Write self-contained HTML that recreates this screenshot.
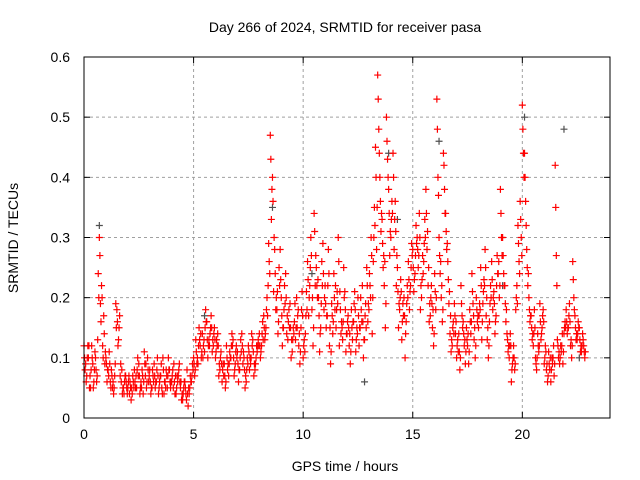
<!DOCTYPE html>
<html><head><meta charset="utf-8"><style>
html,body{margin:0;padding:0;background:#fff;}
svg{display:block;font-family:"Liberation Sans",sans-serif;}
</style></head><body>
<svg id="chart" width="640" height="480" viewBox="0 0 640 480">
<rect x="0" y="0" width="640" height="480" fill="#fff"/>
<text x="345" y="32" text-anchor="middle" font-size="14">Day 266 of 2024, SRMTID for receiver pasa</text>
<text x="345" y="471" text-anchor="middle" font-size="14">GPS time / hours</text>
<text transform="translate(18,238) rotate(-90)" text-anchor="middle" font-size="14">SRMTID / TECUs</text>
<g id="grid"></g>
<g id="ticks"></g>
<g id="gray"></g>
<g id="red"></g>
<rect x="84" y="57" width="526" height="361" fill="none" stroke="#000" stroke-width="1"/>
</svg>
<script>
const xTicks=[0,5,10,15,20];
const yTicks=[0,0.1,0.2,0.3,0.4,0.5,0.6];
const yTickLabels=["0","0.1","0.2","0.3","0.4","0.5","0.6"];
const step=0.1;
const seriesA=[
0.12,0.06,0.10,0.05,0.09,0.11,0.07,0.30,0.22,0.17,
0.10,0.08,0.06,0.05,0.07,0.18,0.15,0.06,0.05,0.07,
0.05,0.06,0.04,0.08,0.05,0.09,0.06,0.04,0.07,0.10,
0.08,0.05,0.09,0.06,0.04,0.07,0.10,0.06,0.05,0.08,
0.06,0.09,0.04,0.07,0.05,0.03,0.06,0.08,0.04,0.06,
0.10,0.13,0.09,0.12,0.14,0.11,0.16,0.13,0.17,0.12,
0.10,0.14,0.08,0.06,0.09,0.12,0.07,0.10,0.13,0.09,
0.11,0.08,0.14,0.10,0.06,0.12,0.09,0.13,0.08,0.11,
0.14,0.12,0.17,0.15,0.22,0.47,0.40,0.28,0.18,0.25,
0.20,0.15,0.24,0.13,0.19,0.11,0.16,0.20,0.12,0.15,
0.10,0.14,0.26,0.22,0.18,0.34,0.25,0.20,0.15,0.29,
0.22,0.17,0.12,0.19,0.24,0.15,0.30,0.18,0.13,0.21,
0.14,0.12,0.18,0.16,0.11,0.20,0.15,0.22,0.13,0.25,
0.18,0.30,0.26,0.45,0.57,0.40,0.33,0.22,0.50,0.38,
0.30,0.44,0.36,0.25,0.18,0.13,0.20,0.16,0.26,0.22,
0.28,0.24,0.30,0.34,0.20,0.26,0.38,0.22,0.17,0.15,
0.24,0.53,0.30,0.20,0.44,0.34,0.26,0.14,0.12,0.19,
0.10,0.14,0.22,0.16,0.09,0.12,0.18,0.24,0.13,0.20,
0.15,0.25,0.19,0.28,0.13,0.16,0.26,0.21,0.17,0.24,
0.38,0.30,0.22,0.14,0.10,0.06,0.12,0.18,0.32,0.36,
0.52,0.44,0.28,0.20,0.17,0.12,0.10,0.14,0.19,0.15,
0.09,0.08,0.11,0.06,0.10,0.42,0.13,0.09,0.12,0.14,
0.18,0.15,0.12,0.26,0.17,0.13,0.15,0.11,0.12];
const seriesB=[
0.08,0.10,0.05,0.12,0.06,0.08,0.24,0.19,0.12,0.09,
0.06,0.11,0.08,0.04,0.19,0.12,0.07,0.04,0.06,0.05,
0.07,0.03,0.06,0.05,0.10,0.04,0.08,0.11,0.05,0.06,
0.04,0.07,0.05,0.10,0.06,0.05,0.04,0.08,0.10,0.05,
0.08,0.04,0.07,0.09,0.03,0.05,0.04,0.02,0.07,0.09,
0.07,0.09,0.15,0.10,0.12,0.18,0.10,0.14,0.11,0.15,
0.13,0.07,0.11,0.09,0.05,0.08,0.11,0.14,0.07,0.12,
0.06,0.13,0.09,0.05,0.10,0.08,0.14,0.07,0.10,0.13,
0.10,0.16,0.13,0.20,0.26,0.33,0.21,0.18,0.14,0.28,
0.12,0.22,0.14,0.18,0.10,0.15,0.13,0.17,0.09,0.21,
0.13,0.21,0.17,0.30,0.12,0.22,0.20,0.11,0.26,0.18,
0.15,0.28,0.09,0.14,0.18,0.21,0.12,0.16,0.25,0.11,
0.17,0.09,0.13,0.21,0.15,0.12,0.18,0.10,0.19,0.16,
0.22,0.14,0.35,0.28,0.48,0.31,0.25,0.15,0.43,0.27,
0.36,0.28,0.22,0.15,0.23,0.19,0.10,0.22,0.18,0.29,
0.21,0.32,0.25,0.18,0.27,0.33,0.28,0.16,0.22,0.12,
0.18,0.40,0.24,0.16,0.38,0.28,0.19,0.11,0.16,0.14,
0.13,0.08,0.17,0.12,0.15,0.09,0.14,0.19,0.10,0.16,
0.19,0.13,0.23,0.17,0.10,0.22,0.18,0.14,0.27,0.20,
0.30,0.24,0.16,0.11,0.14,0.09,0.08,0.22,0.26,0.30,
0.44,0.36,0.22,0.16,0.13,0.18,0.08,0.11,0.13,0.18,
0.12,0.06,0.08,0.10,0.07,0.27,0.10,0.12,0.09,0.16,
0.14,0.19,0.10,0.20,0.13,0.16,0.11,0.14,0.10];
const seriesC=[
0.10,0.07,0.12,0.08,0.05,0.10,0.13,0.27,0.20,0.14,
0.09,0.07,0.05,0.06,0.09,0.16,0.17,0.08,0.04,0.06,
0.06,0.05,0.07,0.06,0.08,0.07,0.05,0.06,0.09,0.08,
0.06,0.08,0.07,0.08,0.05,0.09,0.08,0.05,0.07,0.06,
0.07,0.06,0.05,0.08,0.06,0.04,0.05,0.04,0.05,0.07,
0.09,0.11,0.12,0.14,0.10,0.15,0.13,0.12,0.15,0.14,
0.11,0.12,0.10,0.08,0.07,0.10,0.09,0.12,0.10,0.11,
0.09,0.10,0.12,0.08,0.08,0.11,0.10,0.11,0.09,0.12,
0.12,0.14,0.15,0.18,0.29,0.43,0.36,0.24,0.21,0.22,
0.17,0.18,0.20,0.16,0.15,0.13,0.19,0.15,0.14,0.18,
0.12,0.17,0.23,0.25,0.20,0.31,0.22,0.17,0.19,0.24,
0.19,0.22,0.15,0.17,0.20,0.18,0.26,0.14,0.16,0.18,
0.16,0.14,0.15,0.19,0.13,0.17,0.20,0.16,0.17,0.22,
0.24,0.27,0.30,0.40,0.53,0.36,0.29,0.26,0.46,0.34,
0.33,0.40,0.31,0.21,0.20,0.16,0.17,0.19,0.23,0.25,
0.25,0.27,0.28,0.30,0.23,0.29,0.34,0.25,0.20,0.18,
0.21,0.48,0.27,0.22,0.42,0.31,0.23,0.17,0.15,0.17,
0.12,0.11,0.19,0.14,0.11,0.14,0.16,0.21,0.15,0.18,
0.17,0.22,0.21,0.25,0.15,0.19,0.23,0.19,0.22,0.26,
0.34,0.27,0.19,0.13,0.12,0.08,0.10,0.20,0.29,0.33,
0.48,0.40,0.25,0.18,0.15,0.14,0.09,0.12,0.16,0.17,
0.10,0.09,0.09,0.08,0.12,0.35,0.12,0.10,0.14,0.15,
0.16,0.17,0.13,0.23,0.15,0.14,0.13,0.12,0.11];
const seriesD=[
0.09,0.12,0.07,0.10,0.08,0.06,0.20,0.16,0.10,0.11,
0.08,0.09,0.07,0.05,0.15,0.13,0.09,0.05,0.07,0.04,
0.04,0.05,0.05,0.07,0.07,0.05,0.07,0.09,0.06,0.07,
0.05,0.06,0.06,0.07,0.07,0.04,0.06,0.07,0.08,0.06,
0.05,0.07,0.06,0.06,0.04,0.06,0.03,0.05,0.06,0.08,
0.08,0.10,0.13,0.11,0.13,0.16,0.12,0.15,0.13,0.13,
0.12,0.09,0.09,0.07,0.06,0.09,0.10,0.12,0.08,0.10,
0.08,0.11,0.11,0.07,0.09,0.10,0.12,0.09,0.12,0.12,
0.11,0.13,0.14,0.17,0.24,0.38,0.30,0.20,0.16,0.23,
0.15,0.19,0.17,0.15,0.13,0.14,0.15,0.18,0.11,0.17,
0.11,0.18,0.20,0.27,0.15,0.27,0.23,0.14,0.22,0.20,
0.17,0.24,0.11,0.16,0.22,0.19,0.21,0.15,0.20,0.14,
0.15,0.11,0.16,0.18,0.14,0.15,0.16,0.13,0.15,0.19,
0.20,0.20,0.32,0.35,0.44,0.34,0.27,0.19,0.40,0.31,
0.34,0.33,0.27,0.19,0.21,0.17,0.14,0.20,0.21,0.27,
0.23,0.29,0.27,0.22,0.24,0.30,0.31,0.19,0.19,0.14,
0.20,0.37,0.26,0.18,0.34,0.29,0.21,0.13,0.14,0.16,
0.11,0.10,0.15,0.13,0.13,0.11,0.16,0.17,0.12,0.17,
0.18,0.16,0.22,0.20,0.12,0.20,0.20,0.16,0.24,0.22,
0.27,0.22,0.18,0.12,0.12,0.10,0.09,0.19,0.24,0.27,
0.40,0.32,0.24,0.17,0.14,0.15,0.10,0.12,0.14,0.16,
0.11,0.07,0.10,0.09,0.09,0.22,0.11,0.11,0.11,0.15,
0.15,0.16,0.12,0.18,0.14,0.15,0.12,0.13,0.11];
const grayTimes=[0.7,5.5,8.6,10.4,12.8,13.9,14.3,16.2,19.1,20.1,21.9,22.6];
const grayValues=[0.32,0.17,0.35,0.24,0.06,0.44,0.33,0.46,0.22,0.50,0.48,0.10];

const X0=84,X1=610,Y0=418,Y1=57,XMAX=24,YMAX=0.6;
function sx(t){return X0+(X1-X0)*t/XMAX;}
function sy(v){return Y0-(Y0-Y1)*v/YMAX;}
const NS="http://www.w3.org/2000/svg";
function mk(tag,attrs,parent){const e=document.createElementNS(NS,tag);for(const k in attrs)e.setAttribute(k,attrs[k]);parent.appendChild(e);return e;}
const grid=document.getElementById('grid'),ticks=document.getElementById('ticks');
xTicks.forEach((t,i)=>{
  const x=sx(t);
  if(t>0){const g=mk('line',{x1:x,x2:x,y1:Y1,y2:Y0,stroke:'#a0a0a0','stroke-dasharray':'3,3'},grid);
  
  }
  mk('line',{x1:x,x2:x,y1:Y0,y2:Y0-6,stroke:'#000'},ticks);
  mk('line',{x1:x,x2:x,y1:Y1,y2:Y1+6,stroke:'#000'},ticks);
  const l=mk('text',{x:x,y:Y0+21,'text-anchor':'middle','font-size':'14'},ticks);
  l.textContent=String(t);
  
  
});
yTicks.forEach((v,i)=>{
  const y=sy(v);
  if(v>0&&v<YMAX){const g=mk('line',{x1:X0,x2:X1,y1:y,y2:y,stroke:'#a0a0a0','stroke-dasharray':'3,3'},grid);
  
  }
  mk('line',{x1:X0,x2:X0+6,y1:y,y2:y,stroke:'#000'},ticks);
  mk('line',{x1:X1,x2:X1-6,y1:y,y2:y,stroke:'#000'},ticks);
  const l=mk('text',{x:X0-14,y:y+5,'text-anchor':'end','font-size':'14'},ticks);
  l.textContent=yTickLabels[i];
  
  
});
function plus(g,t,v,color){
  const x=sx(t),y=sy(v);
  const p=mk('path',{d:`M${x-3.5},${y}h7M${x},${y-3.5}v7`,stroke:color,'stroke-width':'1.2',fill:'none'},g);
  
  
}
const gg=document.getElementById('gray'),rg=document.getElementById('red');
grayTimes.forEach((t,i)=>plus(gg,t,grayValues[i],'#505050'));
seriesA.forEach((v,i)=>plus(rg,i*step,v,'#ff0000'));
seriesB.forEach((v,i)=>plus(rg,i*step+0.05,v,'#ff0000'));
seriesC.forEach((v,i)=>plus(rg,i*step+0.025,v,'#ff0000'));
seriesD.forEach((v,i)=>plus(rg,i*step+0.075,v,'#ff0000'));
</script>
</body></html>
